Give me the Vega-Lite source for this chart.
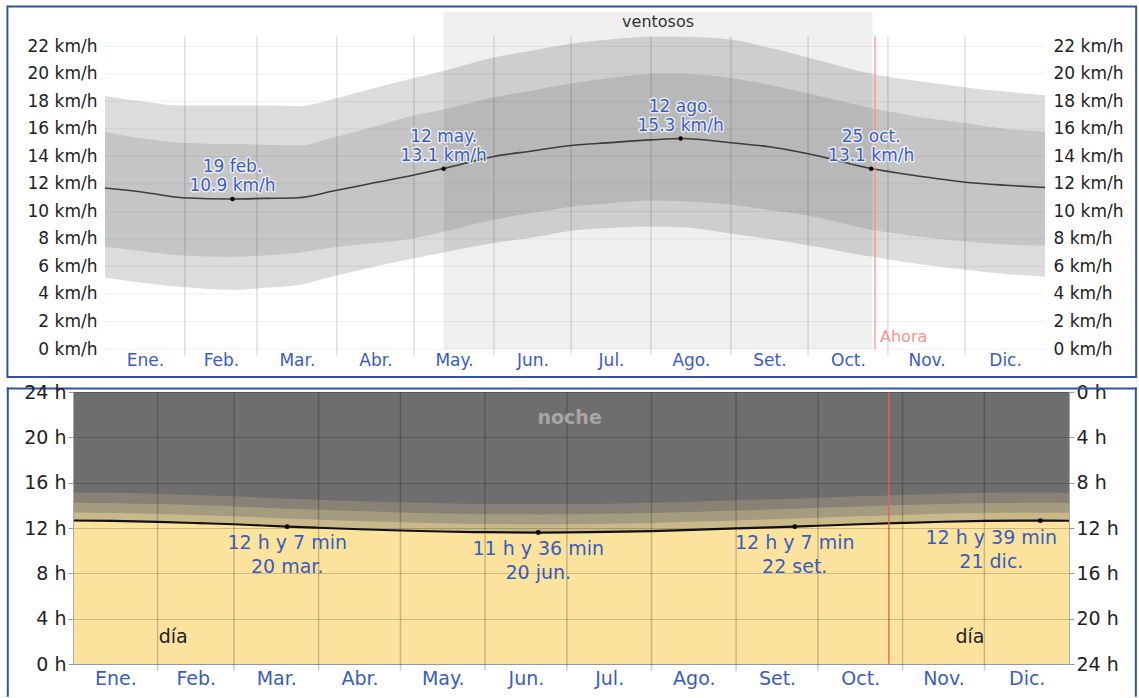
{
"$schema": "https://vega.github.io/schema/vega-lite/v6.json",
"padding": {"left": 6, "top": 5, "right": 0, "bottom": 0},
"background": "#ffffff",
"config": {"view": {"stroke": null}, "font": "DejaVu Sans", "concat": {"spacing": 4}},
"datasets": {
 "wind": [
  {"d": 0, "p10": 5.2, "p25": 7.45, "m": 11.7, "p75": 15.8, "p90": 18.4},
  {"d": 15, "p10": 4.8, "p25": 7.1, "m": 11.4, "p75": 15.3, "p90": 18.0},
  {"d": 30, "p10": 4.5, "p25": 6.8, "m": 11.0, "p75": 15.0, "p90": 17.7},
  {"d": 50, "p10": 4.3, "p25": 6.7, "m": 10.9, "p75": 14.9, "p90": 17.7},
  {"d": 62, "p10": 4.45, "p25": 6.8, "m": 10.95, "p75": 14.85, "p90": 17.7},
  {"d": 75, "p10": 4.65, "p25": 7.0, "m": 11.0, "p75": 14.8, "p90": 17.65},
  {"d": 89, "p10": 5.3, "p25": 7.4, "m": 11.5, "p75": 15.4, "p90": 18.2},
  {"d": 105, "p10": 6.0, "p25": 7.7, "m": 12.1, "p75": 16.2, "p90": 19.0},
  {"d": 120, "p10": 6.6, "p25": 8.05, "m": 12.65, "p75": 17.0, "p90": 19.7},
  {"d": 131, "p10": 7.0, "p25": 8.5, "m": 13.1, "p75": 17.4, "p90": 20.2},
  {"d": 151, "p10": 7.7, "p25": 9.4, "m": 14.0, "p75": 18.3, "p90": 21.2},
  {"d": 166, "p10": 8.1, "p25": 9.9, "m": 14.4, "p75": 18.8, "p90": 21.7},
  {"d": 181, "p10": 8.6, "p25": 10.35, "m": 14.8, "p75": 19.3, "p90": 22.2},
  {"d": 196, "p10": 8.8, "p25": 10.6, "m": 15.0, "p75": 19.7, "p90": 22.5},
  {"d": 212, "p10": 8.9, "p25": 10.8, "m": 15.2, "p75": 20.0, "p90": 22.7},
  {"d": 224, "p10": 8.85, "p25": 10.75, "m": 15.3, "p75": 20.0, "p90": 22.7},
  {"d": 243, "p10": 8.4, "p25": 10.5, "m": 15.0, "p75": 19.7, "p90": 22.5},
  {"d": 258, "p10": 8.0, "p25": 10.1, "m": 14.7, "p75": 19.2, "p90": 21.9},
  {"d": 273, "p10": 7.55, "p25": 9.7, "m": 14.2, "p75": 18.6, "p90": 21.2},
  {"d": 298, "p10": 6.7, "p25": 8.65, "m": 13.1, "p75": 17.5, "p90": 20.0},
  {"d": 315, "p10": 6.2, "p25": 8.2, "m": 12.6, "p75": 16.9, "p90": 19.5},
  {"d": 335, "p10": 5.75, "p25": 7.8, "m": 12.1, "p75": 16.4, "p90": 19.0},
  {"d": 350, "p10": 5.45, "p25": 7.6, "m": 11.9, "p75": 16.0, "p90": 18.7},
  {"d": 365, "p10": 5.25, "p25": 7.5, "m": 11.75, "p75": 15.8, "p90": 18.45}
 ],
 "windAnn": [
  {"d": 49.5, "v": 10.9, "t1": "19 feb.", "t2": "10.9 km/h"},
  {"d": 131.5, "v": 13.1, "t1": "12 may.", "t2": "13.1 km/h"},
  {"d": 223.5, "v": 15.3, "t1": "12 ago.", "t2": "15.3 km/h"},
  {"d": 297.5, "v": 13.1, "t1": "25 oct.", "t2": "13.1 km/h"}
 ],
 "windy": [{"start": 131.5, "end": 298, "label": "ventosos"}],
 "now": [{"d": 299, "label": "Ahora"}],
 "months": [{"d": 31}, {"d": 59}, {"d": 90}, {"d": 120}, {"d": 151}, {"d": 181}, {"d": 212}, {"d": 243}, {"d": 273}, {"d": 304}, {"d": 334}],
 "hgridTop": [{"v": 0}, {"v": 2}, {"v": 4}, {"v": 6}, {"v": 8}, {"v": 10}, {"v": 12}, {"v": 14}, {"v": 16}, {"v": 18}, {"v": 20}, {"v": 22}],
 "frameTop": [{"x1": -37.9, "x2": 400.4, "y1": -2.04, "y2": 24.9}],
 "daylight": [
  {"d": 0, "L": 12.66, "c": 13.36, "n": 14.23, "a": 15.14},
  {"d": 15, "L": 12.62, "c": 13.32, "n": 14.19, "a": 15.10},
  {"d": 31, "L": 12.54, "c": 13.24, "n": 14.11, "a": 15.02},
  {"d": 46, "L": 12.43, "c": 13.13, "n": 14.00, "a": 14.90},
  {"d": 59, "L": 12.33, "c": 13.03, "n": 13.90, "a": 14.80},
  {"d": 78.5, "L": 12.12, "c": 12.83, "n": 13.70, "a": 14.59},
  {"d": 90, "L": 12.02, "c": 12.73, "n": 13.60, "a": 14.49},
  {"d": 105, "L": 11.89, "c": 12.60, "n": 13.47, "a": 14.37},
  {"d": 120, "L": 11.78, "c": 12.50, "n": 13.37, "a": 14.27},
  {"d": 135, "L": 11.69, "c": 12.41, "n": 13.28, "a": 14.18},
  {"d": 151, "L": 11.63, "c": 12.35, "n": 13.22, "a": 14.12},
  {"d": 170.5, "L": 11.60, "c": 12.33, "n": 13.20, "a": 14.10},
  {"d": 181, "L": 11.61, "c": 12.34, "n": 13.21, "a": 14.11},
  {"d": 196, "L": 11.65, "c": 12.38, "n": 13.25, "a": 14.15},
  {"d": 212, "L": 11.73, "c": 12.45, "n": 13.32, "a": 14.22},
  {"d": 227, "L": 11.83, "c": 12.55, "n": 13.42, "a": 14.32},
  {"d": 243, "L": 11.96, "c": 12.67, "n": 13.54, "a": 14.44},
  {"d": 264.5, "L": 12.12, "c": 12.83, "n": 13.70, "a": 14.59},
  {"d": 273, "L": 12.20, "c": 12.91, "n": 13.78, "a": 14.67},
  {"d": 288, "L": 12.33, "c": 13.03, "n": 13.90, "a": 14.80},
  {"d": 304, "L": 12.45, "c": 13.15, "n": 14.02, "a": 14.92},
  {"d": 319, "L": 12.55, "c": 13.25, "n": 14.12, "a": 15.02},
  {"d": 334, "L": 12.62, "c": 13.32, "n": 14.19, "a": 15.10},
  {"d": 354.5, "L": 12.65, "c": 13.35, "n": 14.22, "a": 15.13},
  {"d": 365, "L": 12.64, "c": 13.34, "n": 14.21, "a": 15.12}
 ],
 "dayAnn": [
  {"d": 78.5, "v": 12.12, "t1": "12 h y 7 min", "t2": "20 mar."},
  {"d": 170.5, "v": 11.6, "t1": "11 h y 36 min", "t2": "20 jun."},
  {"d": 264.5, "v": 12.12, "t1": "12 h y 7 min", "t2": "22 set."},
  {"d": 354.5, "v": 12.65, "t1": "12 h y 39 min", "t2": "21 dic."}
 ],
 "dayLabels": [
  {"d": 182, "v": 21.7, "t": "noche"},
  {"d": 36.7, "v": 2.4, "t": "día"},
  {"d": 328.7, "v": 2.4, "t": "día"}
 ],
 "frameBot": [
  {"x1": -23.9, "x2": -23.9, "y1": -2.8, "y2": 24.3},
  {"x1": 389.5, "x2": 389.5, "y1": -2.8, "y2": 24.3},
  {"x1": -23.9, "x2": 389.5, "y1": 24.3, "y2": 24.3}
 ]
},
"vconcat": [
 {
  "width": 972, "height": 337,
  "resolve": {"axis": {"y": "independent"}},
  "layer": [
   {"data": {"name": "frameTop"}, "mark": {"type": "rect", "filled": false, "color": "#2f55a0", "strokeWidth": 2},
    "encoding": {
     "x": {"field": "x1", "type": "quantitative", "scale": {"domain": [-12.43, 365], "nice": false, "zero": false},
       "axis": {"orient": "bottom", "values": [15.5, 45, 74.5, 105, 135.5, 166, 196.5, 227.5, 258, 288.5, 319, 349.5], "labelExpr": "datum.value < 30 ? 'Ene.' : datum.value < 60 ? 'Feb.' : datum.value < 90 ? 'Mar.' : datum.value < 120 ? 'Abr.' : datum.value < 150 ? 'May.' : datum.value < 180 ? 'Jun.' : datum.value < 210 ? 'Jul.' : datum.value < 240 ? 'Ago.' : datum.value < 270 ? 'Set.' : datum.value < 300 ? 'Oct.' : datum.value < 330 ? 'Nov.' : 'Dic.'", "grid": false, "ticks": false, "domain": false, "labelColor": "#3a5cbf", "labelFontSize": 17, "labelPadding": 3, "labelFlush": false, "labelOverlap": false, "title": null}},
     "x2": {"field": "x2"},
     "y": {"field": "y1", "type": "quantitative", "scale": {"domain": [0, 24.5], "nice": false, "zero": false}, "axis": null},
     "y2": {"field": "y2"}}},
   {"data": {"name": "wind"}, "mark": {"type": "area", "color": "#dcdcdc", "interpolate": "monotone"},
    "encoding": {
     "x": {"field": "d", "type": "quantitative"},
     "y": {"field": "p10", "type": "quantitative",
       "axis": {"orient": "left", "values": [0, 2, 4, 6, 8, 10, 12, 14, 16, 18, 20, 22], "labelExpr": "datum.value + ' km/h'", "grid": false, "ticks": false, "domain": false, "offset": -28, "labelFontSize": 17, "labelColor": "#222222", "labelPadding": 4, "title": null}},
     "y2": {"field": "p90"}}},
   {"data": {"name": "wind"}, "mark": {"type": "area", "color": "#c5c5c5", "interpolate": "monotone"},
    "encoding": {
     "x": {"field": "d", "type": "quantitative"},
     "y": {"field": "p25", "type": "quantitative",
       "axis": {"orient": "right", "values": [0, 2, 4, 6, 8, 10, 12, 14, 16, 18, 20, 22], "labelExpr": "datum.value + ' km/h'", "grid": false, "ticks": false, "domain": false, "labelFontSize": 17, "labelColor": "#222222", "labelPadding": 8, "title": null}},
     "y2": {"field": "p75"}}},
   {"data": {"name": "windy"}, "mark": {"type": "rect", "color": "#000000", "opacity": 0.063},
    "encoding": {"x": {"field": "start", "type": "quantitative"}, "x2": {"field": "end"}, "y": {"datum": 0, "axis": null}, "y2": {"datum": 24.5}}},
   {"data": {"name": "hgridTop"}, "mark": {"type": "rule", "color": "#000000", "opacity": 0.06, "strokeWidth": 1},
    "encoding": {"x": {"datum": 0}, "x2": {"datum": 365}, "y": {"field": "v", "type": "quantitative", "axis": null}}},
   {"data": {"name": "months"}, "mark": {"type": "rule", "color": "#000000", "opacity": 0.12, "strokeWidth": 1.5},
    "encoding": {"x": {"field": "d", "type": "quantitative"}, "y": {"datum": -0.45, "axis": null}, "y2": {"datum": 22.73}}},
   {"data": {"name": "wind"}, "mark": {"type": "line", "color": "#3c3c3c", "strokeWidth": 1.6, "interpolate": "monotone"},
    "encoding": {"x": {"field": "d", "type": "quantitative"}, "y": {"field": "m", "type": "quantitative", "axis": null}}},
   {"data": {"name": "now"}, "mark": {"type": "rule", "color": "#ff8a8a", "strokeWidth": 1.2},
    "encoding": {"x": {"field": "d", "type": "quantitative"}, "y": {"datum": 0, "axis": null}, "y2": {"datum": 22.73}}},
   {"data": {"name": "now"}, "mark": {"type": "text", "color": "#f39494", "fontSize": 16, "align": "left", "baseline": "middle", "dx": 5},
    "encoding": {"x": {"field": "d", "type": "quantitative"}, "y": {"datum": 0.9, "axis": null}, "text": {"field": "label"}}},
   {"data": {"name": "windy"}, "transform": [{"calculate": "(datum.start + datum.end) / 2", "as": "mid"}], "mark": {"type": "text", "color": "#333333", "fontSize": 16, "baseline": "middle"},
    "encoding": {"x": {"field": "mid", "type": "quantitative"}, "y": {"datum": 23.8, "axis": null}, "text": {"field": "label"}}},
   {"data": {"name": "windAnn"}, "mark": {"type": "point", "filled": true, "color": "#000000", "size": 20, "opacity": 1},
    "encoding": {"x": {"field": "d", "type": "quantitative"}, "y": {"field": "v", "type": "quantitative", "axis": null}}},
   {"data": {"name": "windAnn"}, "mark": {"type": "text", "fontSize": 17, "baseline": "middle", "dy": -32, "stroke": "#ffffff", "strokeWidth": 3, "strokeOpacity": 0.7, "strokeJoin": "round", "fill": "#ffffff"},
    "encoding": {"x": {"field": "d", "type": "quantitative"}, "y": {"field": "v", "type": "quantitative", "axis": null}, "text": {"field": "t1"}}},
   {"data": {"name": "windAnn"}, "mark": {"type": "text", "fontSize": 17, "baseline": "middle", "dy": -13, "stroke": "#ffffff", "strokeWidth": 3, "strokeOpacity": 0.7, "strokeJoin": "round", "fill": "#ffffff"},
    "encoding": {"x": {"field": "d", "type": "quantitative"}, "y": {"field": "v", "type": "quantitative", "axis": null}, "text": {"field": "t2"}}},
   {"data": {"name": "windAnn"}, "mark": {"type": "text", "fontSize": 17, "baseline": "middle", "dy": -32, "color": "#3a5cbf"},
    "encoding": {"x": {"field": "d", "type": "quantitative"}, "y": {"field": "v", "type": "quantitative", "axis": null}, "text": {"field": "t1"}}},
   {"data": {"name": "windAnn"}, "mark": {"type": "text", "fontSize": 17, "baseline": "middle", "dy": -13, "color": "#3a5cbf"},
    "encoding": {"x": {"field": "d", "type": "quantitative"}, "y": {"field": "v", "type": "quantitative", "axis": null}, "text": {"field": "t2"}}}
  ]
 },
 {
  "width": 996, "height": 272,
  "resolve": {"axis": {"y": "independent"}},
  "layer": [
   {"data": {"name": "frameBot"}, "mark": {"type": "rule", "color": "#2f55a0", "strokeWidth": 2, "strokeCap": "square"},
    "encoding": {
     "x": {"field": "x1", "type": "quantitative", "scale": {"domain": [0, 365], "nice": false, "zero": false},
       "axis": {"orient": "bottom", "values": [15.5, 45, 74.5, 105, 135.5, 166, 196.5, 227.5, 258, 288.5, 319, 349.5], "labelExpr": "datum.value < 30 ? 'Ene.' : datum.value < 60 ? 'Feb.' : datum.value < 90 ? 'Mar.' : datum.value < 120 ? 'Abr.' : datum.value < 150 ? 'May.' : datum.value < 180 ? 'Jun.' : datum.value < 210 ? 'Jul.' : datum.value < 240 ? 'Ago.' : datum.value < 270 ? 'Set.' : datum.value < 300 ? 'Oct.' : datum.value < 330 ? 'Nov.' : 'Dic.'", "grid": false, "ticks": false, "domain": true, "domainColor": "#bbbbbb", "labelColor": "#3a5cbf", "labelFontSize": 19, "labelPadding": 5, "labelFlush": false, "labelOverlap": false, "title": null}},
     "x2": {"field": "x2"},
     "y": {"field": "y1", "type": "quantitative", "scale": {"domain": [0, 24], "nice": false, "zero": false}, "axis": null},
     "y2": {"field": "y2"}}},
   {"data": {"name": "daylight"}, "mark": {"type": "area", "color": "#6e6e6e"},
    "encoding": {"x": {"field": "d", "type": "quantitative"}, "y": {"datum": 24, "axis": null}}},
   {"data": {"name": "daylight"}, "mark": {"type": "area", "color": "#878275", "interpolate": "monotone"},
    "encoding": {"x": {"field": "d", "type": "quantitative"}, "y": {"field": "a", "type": "quantitative", "axis": null}}},
   {"data": {"name": "daylight"}, "mark": {"type": "area", "color": "#a59c80", "interpolate": "monotone"},
    "encoding": {"x": {"field": "d", "type": "quantitative"}, "y": {"field": "n", "type": "quantitative", "axis": null}}},
   {"data": {"name": "daylight"}, "mark": {"type": "area", "color": "#c9b98a", "interpolate": "monotone"},
    "encoding": {"x": {"field": "d", "type": "quantitative"},
     "y": {"field": "c", "type": "quantitative",
       "axis": {"orient": "right", "values": [0, 4, 8, 12, 16, 20, 24], "labelExpr": "(24 - datum.value) + ' h'", "grid": false, "domain": true, "domainColor": "#aaaaaa", "ticks": true, "tickSize": 5, "tickColor": "#999999", "labelFontSize": 19, "labelColor": "#222222", "labelPadding": 2, "title": null}}}},
   {"data": {"name": "daylight"}, "mark": {"type": "area", "color": "#fbe39e", "interpolate": "monotone"},
    "encoding": {
     "x": {"field": "d", "type": "quantitative"},
     "y": {"field": "L", "type": "quantitative",
       "axis": {"orient": "left", "values": [0, 4, 8, 12, 16, 20, 24], "labelExpr": "datum.value + ' h'", "grid": true, "gridColor": "#000000", "gridOpacity": 0.18, "zindex": 1, "domain": true, "domainColor": "#aaaaaa", "ticks": true, "tickSize": 5, "tickColor": "#999999", "labelFontSize": 19, "labelColor": "#222222", "labelPadding": 2, "title": null}}}},
   {"data": {"name": "months"}, "mark": {"type": "rule", "color": "#000000", "opacity": 0.2, "strokeWidth": 1.5},
    "encoding": {"x": {"field": "d", "type": "quantitative"}, "y": {"datum": -0.6, "axis": null}, "y2": {"datum": 24}}},
   {"data": {"name": "daylight"}, "mark": {"type": "line", "color": "#111111", "strokeWidth": 2.2, "interpolate": "monotone"},
    "encoding": {"x": {"field": "d", "type": "quantitative"}, "y": {"field": "L", "type": "quantitative", "axis": null}}},
   {"data": {"name": "now"}, "mark": {"type": "rule", "color": "#e8644e", "strokeWidth": 1.4},
    "encoding": {"x": {"field": "d", "type": "quantitative"}, "y": {"datum": 0, "axis": null}, "y2": {"datum": 24}}},
   {"data": {"name": "dayAnn"}, "mark": {"type": "point", "filled": true, "color": "#000000", "size": 24, "opacity": 1},
    "encoding": {"x": {"field": "d", "type": "quantitative"}, "y": {"field": "v", "type": "quantitative", "axis": null}}},
   {"data": {"name": "dayAnn"}, "transform": [{"filter": "datum.d < 350"}], "mark": {"type": "text", "fontSize": 19, "baseline": "middle", "dy": 16, "color": "#3a5cbf"},
    "encoding": {"x": {"field": "d", "type": "quantitative"}, "y": {"field": "v", "type": "quantitative", "axis": null}, "text": {"field": "t1"}}},
   {"data": {"name": "dayAnn"}, "transform": [{"filter": "datum.d < 350"}], "mark": {"type": "text", "fontSize": 19, "baseline": "middle", "dy": 40, "color": "#3a5cbf"},
    "encoding": {"x": {"field": "d", "type": "quantitative"}, "y": {"field": "v", "type": "quantitative", "axis": null}, "text": {"field": "t2"}}},
   {"data": {"name": "dayAnn"}, "transform": [{"filter": "datum.d > 350"}], "mark": {"type": "text", "fontSize": 19, "baseline": "middle", "dy": 17, "dx": -49, "color": "#3a5cbf"},
    "encoding": {"x": {"field": "d", "type": "quantitative"}, "y": {"field": "v", "type": "quantitative", "axis": null}, "text": {"field": "t1"}}},
   {"data": {"name": "dayAnn"}, "transform": [{"filter": "datum.d > 350"}], "mark": {"type": "text", "fontSize": 19, "baseline": "middle", "dy": 41, "dx": -49, "color": "#3a5cbf"},
    "encoding": {"x": {"field": "d", "type": "quantitative"}, "y": {"field": "v", "type": "quantitative", "axis": null}, "text": {"field": "t2"}}},
   {"data": {"name": "dayLabels"}, "transform": [{"filter": "datum.t == 'noche'"}], "mark": {"type": "text", "fontSize": 19, "fontWeight": "bold", "baseline": "middle", "color": "#a6a6a6"},
    "encoding": {"x": {"field": "d", "type": "quantitative"}, "y": {"field": "v", "type": "quantitative", "axis": null}, "text": {"field": "t"}}},
   {"data": {"name": "dayLabels"}, "transform": [{"filter": "datum.t != 'noche'"}], "mark": {"type": "text", "fontSize": 19, "baseline": "middle", "color": "#222222"},
    "encoding": {"x": {"field": "d", "type": "quantitative"}, "y": {"field": "v", "type": "quantitative", "axis": null}, "text": {"field": "t"}}}
  ]
 }
]
}
